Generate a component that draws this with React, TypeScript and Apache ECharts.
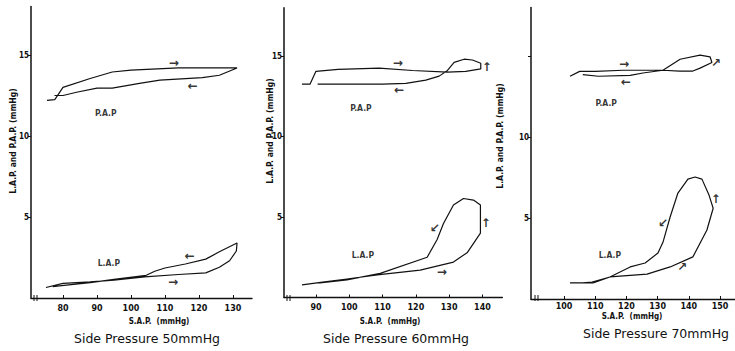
import React, { useEffect, useRef } from "react";
import * as echarts from "echarts";

// ---- data ----
const titles = ["Side Pressure 50mmHg", "Side Pressure 60mmHg", "Side Pressure 70mmHg"];
const xName = "S.A.P.  (mmHg)";
const yName = "L.A.P. and P.A.P. (mmHg)";

const xTicks50 = [80, 90, 100, 110, 120, 130];
const xTicks60 = [90, 100, 110, 120, 130, 140];
const xTicks70 = [100, 110, 120, 130, 140, 150];
const yTicks50 = [5, 10, 15];
const yTicks60 = [5, 10, 15];
const yTicks70 = [5, 10, 15];
const yLabels70 = [5, 10];

const pap50 = [[75.3,12.2],[77.6,12.25],[80,13.0],[88,13.55],[94.5,13.95],[100,14.07],[114,14.2],[131.2,14.2],[126,13.75],[121,13.6],[108.5,13.45],[102.5,13.25],[94.5,12.95],[90,12.95],[84,12.7],[80,12.5],[77.5,12.5]];
const lap50 = [[75,0.65],[80,0.9],[88,1.0],[95,1.1],[104,1.3],[114,1.45],[122,1.55],[126,1.9],[129,2.3],[131,2.9],[131.2,3.4],[126,2.85],[122,2.4],[116,2.1],[110,1.85],[107,1.65],[104.5,1.4],[95,1.15],[88,0.95],[81,0.8],[77,0.7]];

const pap60 = [[85.8,13.25],[88.2,13.25],[90,14.05],[96.6,14.17],[109,14.25],[119,14.1],[129.5,14.0],[135,14.05],[139.5,14.2],[139.5,14.55],[137,14.75],[134.5,14.8],[131.5,14.6],[129.5,14.1],[127,13.75],[123,13.5],[117,13.3],[110,13.25],[90.5,13.25]];
const lap60 = [[85.8,0.78],[92,0.95],[99.3,1.15],[108.4,1.4],[121.3,1.7],[131.3,2.2],[135.5,2.8],[139.4,4.0],[139.4,5.75],[137.3,6.05],[134.3,6.15],[131.3,5.75],[128.3,4.6],[126.4,3.6],[123.4,2.5],[109.3,1.5],[99.3,1.1],[91.2,0.9]];

const pap70 = [[101.9,13.75],[105,14.05],[110,14.05],[119,14.12],[131.7,14.12],[137,14.07],[141.3,14.07],[143.6,14.25],[147.4,14.6],[146.8,14.95],[143.6,15.05],[137.2,14.8],[131.7,14.12],[125.3,13.95],[121.2,13.8],[111,13.75],[106,13.85]];
const lap70 = [[101.9,0.99],[109.3,0.99],[114.7,1.36],[126.6,1.54],[134,1.98],[141.3,2.6],[145.8,4.26],[147.8,5.6],[146.5,6.4],[144.2,7.4],[142,7.53],[139.7,7.4],[136.5,6.54],[134,5.06],[131.7,3.5],[130.1,2.84],[126,2.22],[121.2,1.98],[114.7,1.36],[109,1.05],[106,0.99]];

// annotations: [x, y, text]
const notes50: [number, number, string][] = [[92.6,11.4,"P.A.P"],[112.6,14.5,"→"],[118.2,13.1,"←"],[93.5,2.15,"L.A.P"],[117.3,2.6,"←"],[112.4,1.0,"→"]];
const notes60: [number, number, string][] = [[103.5,11.8,"P.A.P"],[114.6,14.55,"→"],[115,12.9,"←"],[141.3,14.3,"↑"],[104.1,2.65,"L.A.P"],[125.7,4.3,"↙"],[141,4.6,"↑"],[127.8,1.6,"→"]];
const notes70: [number, number, string][] = [[113.5,12.1,"P.A.P"],[119.2,14.5,"→"],[119.9,13.4,"←"],[148.6,14.55,"↗"],[114.7,2.7,"L.A.P"],[131.7,4.7,"↙"],[148.6,6.2,"↑"],[137.8,2.0,"↗"]];

const FONT = "DejaVu Sans";
const CFONT = "DejaVu Sans Condensed";
const INK = "#111";

export default function App() {
  const ref = useRef<HTMLDivElement>(null);
  useEffect(() => {
    if (!ref.current) return;
    const chart = echarts.init(ref.current, null, { renderer: "svg" });

    const grids = [
      { left: 31, top: 6.4, width: 221, height: 291.6 },
      { left: 284, top: 7.7, width: 218.4, height: 289.8 },
      { left: 531, top: 7.4, width: 204, height: 291.6 },
    ];
    const xRanges = [[70.6, 135.6], [80.4, 146], [89.4, 154.8]];
    const xTicks = [xTicks50, xTicks60, xTicks70];
    const yTicks = [yTicks50, yTicks60, yTicks70];
    const yLabels = [yTicks50, yTicks60, yLabels70];
    const curves = [[pap50, lap50], [pap60, lap60], [pap70, lap70]];
    const notes = [notes50, notes60, notes70];
    const xLabelMargin = [6, 6, 3];

    const xAxis = grids.map((_, i) => ({
      type: "value", gridIndex: i, min: xRanges[i][0], max: xRanges[i][1],
      axisLine: { lineStyle: { color: INK, width: 1.3 } },
      axisTick: { inside: true, length: 3, customValues: xTicks[i], lineStyle: { color: INK } },
      axisLabel: { customValues: xTicks[i], fontSize: 8, fontWeight: "bold", color: INK, margin: xLabelMargin[i], fontFamily: FONT },
      splitLine: { show: false },
    }));
    const yAxis = grids.map((_, i) => ({
      type: "value", gridIndex: i, min: 0, max: 18,
      axisLine: { show: true, lineStyle: { color: INK, width: 1.5 } },
      axisTick: { show: true, length: 3, customValues: yTicks[i], lineStyle: { color: INK } },
      axisLabel: { customValues: yLabels[i], fontSize: 8, fontWeight: "bold", color: INK, margin: 2, fontFamily: CFONT },
      splitLine: { show: false },
    }));

    const series: any[] = [];
    curves.forEach((pair, i) => {
      pair.forEach((d) => {
        series.push({
          type: "line", xAxisIndex: i, yAxisIndex: i, data: d, showSymbol: false, symbol: "none",
          lineStyle: { color: INK, width: 1.2 }, silent: true,
        });
      });
      series.push({
        type: "scatter", xAxisIndex: i, yAxisIndex: i, symbolSize: 1, silent: true,
        itemStyle: { color: "rgba(0,0,0,0)" },
        data: notes[i].map((n) => {
          const isWord = n[2].length > 1;
          return {
            value: [n[0], n[1]], name: n[2],
            label: {
              show: true, position: "inside", color: "#000", textBorderWidth: 0,
              fontFamily: isWord ? CFONT : FONT,
              fontSize: isWord ? 8.5 : 12, fontWeight: "bold",
              formatter: n[2],
            },
          };
        }),
        label: { show: true, position: "inside", color: "#000" },
      });
    });

    const yNamePos = [[13, 141], [270, 131], [500, 136]];
    const xNamePos = [[159, 321], [390, 321], [632, 316]];
    const titlePos = [[147, 338], [396, 338], [656, 333]];
    const breaks = [34, 287, 535];
    const graphic: any[] = [];
    for (let i = 0; i < 3; i++) {
      graphic.push({
        type: "text", x: yNamePos[i][0], y: yNamePos[i][1], rotation: Math.PI / 2,
        style: { text: yName, font: `bold 8.5px "${CFONT}"`, fill: INK, align: "center", verticalAlign: "middle" },
      });
      graphic.push({
        type: "text", x: xNamePos[i][0], y: xNamePos[i][1],
        style: { text: xName, font: `bold 8px "${CFONT}"`, fill: INK, align: "center", verticalAlign: "middle" },
      });
      graphic.push({
        type: "text", x: titlePos[i][0], y: titlePos[i][1],
        style: { text: titles[i], font: `12.5px "${FONT}"`, fill: INK, align: "center", verticalAlign: "middle" },
      });
      graphic.push({ type: "line", shape: { x1: breaks[i], y1: 295, x2: breaks[i], y2: 301 }, style: { stroke: INK, lineWidth: 1 } });
      graphic.push({ type: "line", shape: { x1: breaks[i] + 3, y1: 295, x2: breaks[i] + 3, y2: 301 }, style: { stroke: INK, lineWidth: 1 } });
    }

    chart.setOption({
      animation: false,
      backgroundColor: "#fff",
      textStyle: { fontFamily: FONT },
      grid: grids,
      xAxis,
      yAxis,
      series,
      graphic,
    });
    return () => chart.dispose();
  }, []);
  return <div ref={ref} style={{ position: "fixed", left: 0, top: 0, width: 735, height: 351 }} />;
}
